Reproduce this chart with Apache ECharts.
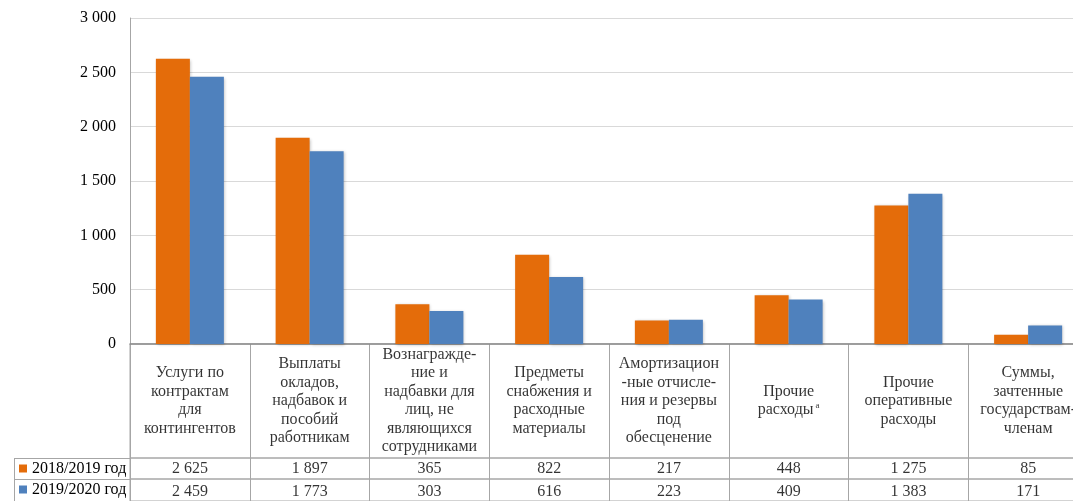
<!DOCTYPE html>
<html>
<head>
<meta charset="utf-8">
<script src="https://cdn.jsdelivr.net/npm/echarts@6/dist/echarts.min.js"></script>
<style>
html,body{margin:0;padding:0;background:#fff;overflow:hidden;width:1073px;height:501px;}
#c{width:1090px;height:501px;}
</style>
</head>
<body>
<div id="c"></div>
<script>
const categories = [
  "Услуги по\nконтрактам\nдля\nконтингентов",
  "Выплаты\nокладов,\nнадбавок и\nпособий\nработникам",
  "Вознагражде-\nние и\nнадбавки для\nлиц, не\nявляющихся\nсотрудниками",
  "Предметы\nснабжения и\nрасходные\nматериалы",
  "Амортизацион\n-ные отчисле-\nния и резервы\nпод\nобесценение",
  "Прочие\nрасходы{s|a}",
  "Прочие\nоперативные\nрасходы",
  "Суммы,\nзачтенные\nгосударствам-\nчленам"
];
const seriesNames = ["2018/2019 год", "2019/2020 год"];
const values2019 = [2625, 1897, 365, 822, 217, 448, 1275, 85];
const values2020 = [2459, 1773, 303, 616, 223, 409, 1383, 171];
const yMin = 0, yMax = 3000, yInterval = 500;

const FONT = "Liberation Serif";
const FS = 16;
const ORANGE = "#E46C0A";
const BLUE = "#4F81BD";
const LINE = "#a6a6a6";
const fmt = v => String(v).replace(/\B(?=(\d{3})+(?!\d))/g, " ");

const chart = echarts.init(document.getElementById("c"));

const L = 130, W = 958;
const tableGrids = [
  {left: L, top: 344, width: W, height: 114},
  {left: L, top: 458, width: W, height: 21},
  {left: L, top: 479, width: W, height: 24}
];

const grid = [{left: L, top: 18, width: W, height: 326}].concat(
  tableGrids.map(g => Object.assign({show: true, borderColor: LINE, borderWidth: 1}, g))
);

const xAxis = [{
  gridIndex: 0, type: "category", data: categories,
  axisLine: {show: true, lineStyle: {color: "#8a8a8a", width: 1.5}},
  axisTick: {show: false}, axisLabel: {show: false}, splitLine: {show: false}
}].concat([1, 2, 3].map(i => ({
  gridIndex: i, type: "category", data: categories,
  axisLine: {show: false}, axisTick: {show: false}, axisLabel: {show: false},
  splitLine: {show: true, interval: 0, lineStyle: {color: LINE, width: 1}}
})));

const yAxis = [{
  gridIndex: 0, type: "value", min: yMin, max: yMax, interval: yInterval,
  axisLine: {show: true, lineStyle: {color: LINE, width: 1}},
  axisTick: {show: false},
  splitLine: {show: true, lineStyle: {color: "#d9d9d9", width: 1}},
  axisLabel: {margin: 14, color: "#000", fontFamily: FONT, fontSize: FS, formatter: v => fmt(v)}
}].concat([1, 2, 3].map(i => ({
  gridIndex: i, type: "value", min: 0, max: 1, show: false
})));

const cellData = categories.map((c, i) => [i, 0.5]);
const textSeries = (idx, fmtFn, extra) => Object.assign({
  type: "scatter", xAxisIndex: idx, yAxisIndex: idx, data: cellData,
  symbolSize: 1, itemStyle: {color: "transparent"}, silent: true,
  label: {show: true, position: "inside", color: "#000", fontFamily: FONT, fontSize: FS,
    align: "center", verticalAlign: "middle", formatter: fmtFn}
}, extra || {});

const option = {
  animation: false,
  backgroundColor: "#fff",
  grid: grid,
  xAxis: xAxis,
  yAxis: yAxis,
  legend: [0, 1].map(i => ({
    data: [seriesNames[i]], left: 19, top: 460 + i * 21, padding: 0,
    icon: "rect", itemWidth: 8, itemHeight: 8,
    textStyle: {color: "#000", fontFamily: FONT, fontSize: FS, lineHeight: 17},
    selectedMode: false
  })),
  graphic: [
    {type: "line", shape: {x1: 14.5, y1: 458, x2: 14.5, y2: 501}, style: {stroke: LINE, lineWidth: 1}},
    {type: "line", shape: {x1: 14, y1: 458.5, x2: 130, y2: 458.5}, style: {stroke: LINE, lineWidth: 1}},
    {type: "line", shape: {x1: 14, y1: 479.5, x2: 130, y2: 479.5}, style: {stroke: LINE, lineWidth: 1}}
  ],
  series: [
    {
      name: seriesNames[0], type: "bar", xAxisIndex: 0, yAxisIndex: 0, data: values2019,
      barWidth: 34, barGap: "0%",
      itemStyle: {color: ORANGE, shadowColor: "rgba(0,0,0,0.25)", shadowBlur: 3, shadowOffsetX: 1, shadowOffsetY: 1}
    },
    {
      name: seriesNames[1], type: "bar", xAxisIndex: 0, yAxisIndex: 0, data: values2020,
      barWidth: 34, barGap: "0%",
      itemStyle: {color: BLUE, shadowColor: "rgba(0,0,0,0.25)", shadowBlur: 3, shadowOffsetX: 1, shadowOffsetY: 1}
    },
    textSeries(1, p => categories[p.dataIndex], {
      label: {show: true, position: "inside", color: "#000", fontFamily: FONT, fontSize: FS,
        lineHeight: 18.5, align: "center", verticalAlign: "middle",
        formatter: p => categories[p.dataIndex],
        rich: {s: {fontSize: 9, fontFamily: FONT, color: "#000", verticalAlign: "top", lineHeight: 18.5, padding: [0, 0, 0, 2]}}}
    }),
    textSeries(2, p => fmt(values2019[p.dataIndex])),
    textSeries(3, p => fmt(values2020[p.dataIndex]), {data: categories.map((c, i) => [i, 0.5 * 21 / 24])})
  ]
};
chart.setOption(option);
</script>
</body>
</html>
